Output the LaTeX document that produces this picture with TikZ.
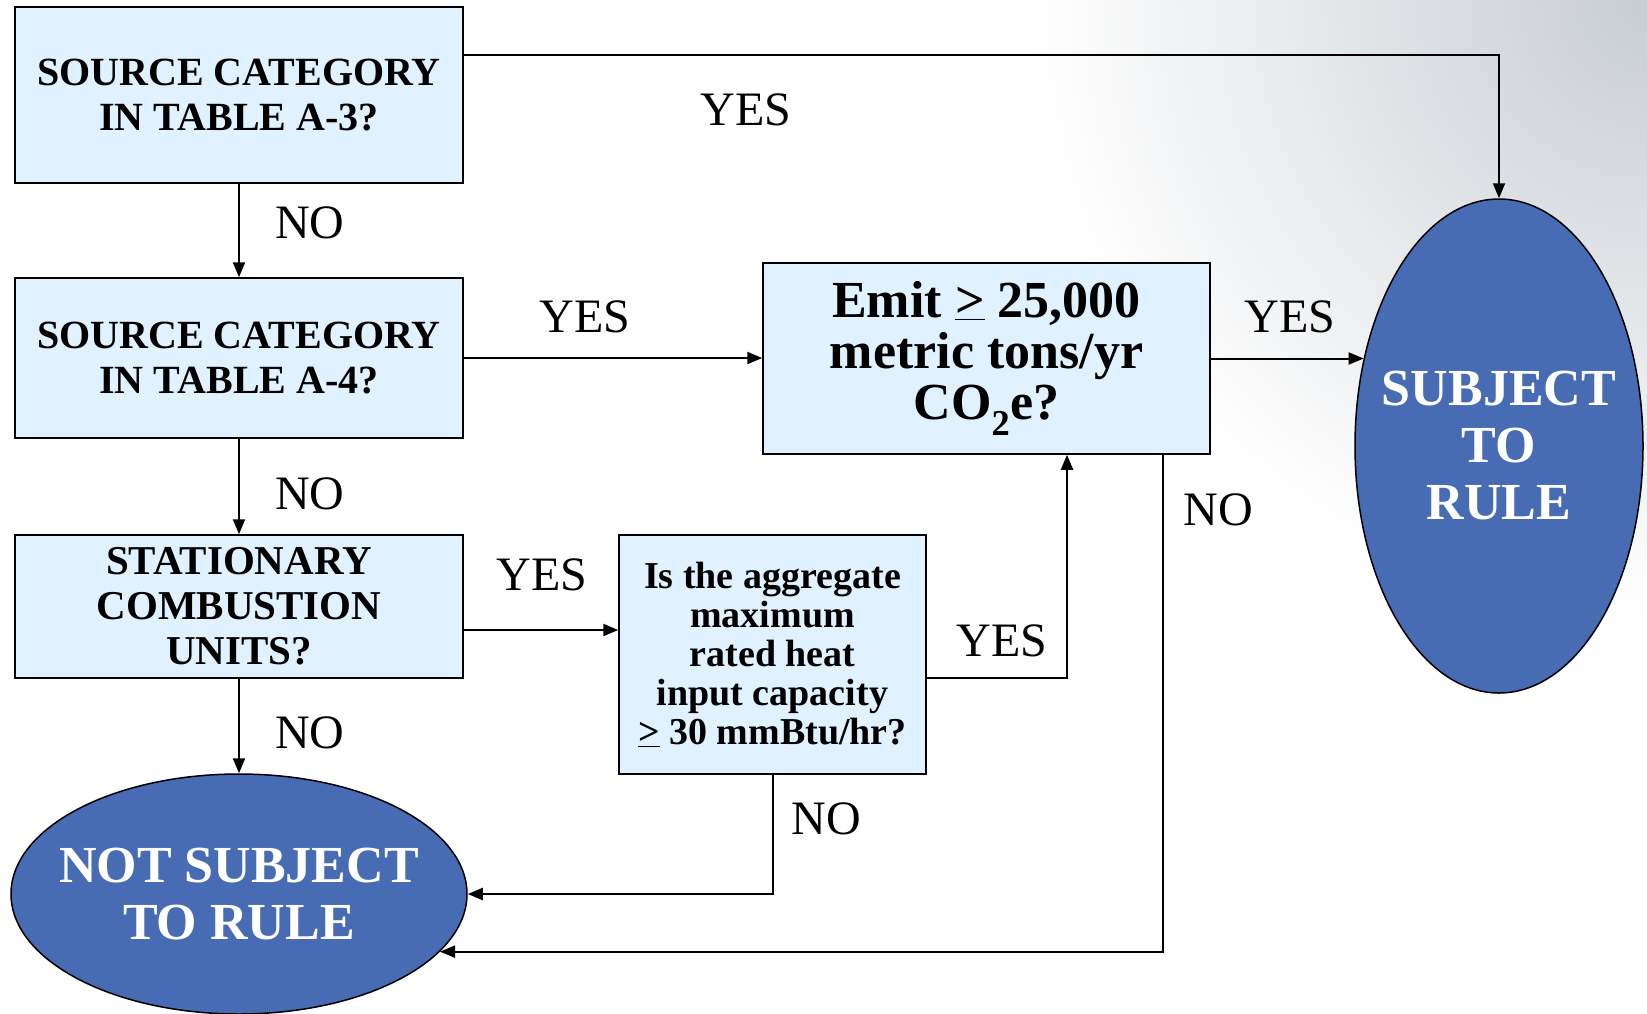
\documentclass[tikz,border=0pt]{standalone}
\usepackage{fontspec}
\setmainfont{Liberation Serif}
\usetikzlibrary{arrows.meta,shapes.geometric}
\definecolor{boxblue}{RGB}{224,242,255}
\definecolor{ovalblue}{RGB}{72,108,180}
\definecolor{cornergray}{RGB}{200,205,211}
\tikzset{
	qbox/.style={draw=black, line width=1.5pt, fill=boxblue, align=center, inner sep=0pt},
	oval/.style={ellipse, draw=black, line width=1.5pt, fill=ovalblue, text=white, align=center, inner ysep=0pt, inner xsep=-20pt, font=\bfseries\fontsize{52}{57}\selectfont},
	flow/.style={line width=2pt, -{Triangle[length=15pt,width=12pt]}},
	answer/.style={inner sep=0pt, font=\fontsize{48}{48}\selectfont}
}

\begin{document}
\begin{tikzpicture}[x=1pt, y=-1pt]
			%%%%% START %%%%%
			
			\useasboundingbox (0, 0) rectangle (1647, 1013);
			\fill[white] (0, 0) rectangle (1647, 1013);
			\begin{scope}
				\clip (0, 0) rectangle (1647, 1013);
				\shade[inner color=cornergray, outer color=white] (1647, 0) circle (620);
			\end{scope}
			
			\node[qbox, minimum width=448, minimum height=176, font=\bfseries\fontsize{40}{45}\selectfont] (tabA3) at (239, 95) {SOURCE CATEGORY\\IN TABLE A-3?};
			\node[qbox, minimum width=448, minimum height=160, font=\bfseries\fontsize{40}{45}\selectfont] (tabA4) at (239, 358) {SOURCE CATEGORY\\IN TABLE A-4?};
			\node[qbox, minimum width=448, minimum height=143, font=\bfseries\fontsize{41}{45}\selectfont] (stat) at (239, 606.5) {STATIONARY\\COMBUSTION\\UNITS?};
			\node[qbox, minimum width=447, minimum height=191, font=\bfseries\fontsize{52}{51}\selectfont] (emit) at (986.5, 358.5) {Emit \underline{>} 25,000\\metric tons/yr\\CO\textsubscript{2}e?};
			\node[qbox, minimum width=307, minimum height=239, font=\bfseries\fontsize{38}{39}\selectfont] (agg) at (772.5, 654.5) {Is the aggregate\\maximum\\rated heat\\input capacity\\\underline{>} 30 mmBtu/hr?};
			
			\node[oval, minimum width=288, minimum height=494] (subj) at (1499, 446) {SUBJECT\\TO\\RULE};
			\node[oval, minimum width=456, minimum height=240] (notsubj) at (239, 894) {NOT SUBJECT\\TO RULE};
			
			\draw[flow] (tabA3.east |- 0, 55) -| (subj.north);
			\draw[flow] (tabA3.south) -- (tabA4.north);
			\draw[flow] (tabA4.east) -- (emit.west |- tabA4.east);
			\draw[flow] (tabA4.south) -- (stat.north);
			\draw[flow] (stat.east |- 0, 630) -- (agg.west |- 0, 630);
			\draw[flow] (stat.south) -- (notsubj.north);
			\draw[flow] (emit.east) -- (emit.east -| subj.147);
			\draw[flow] (agg.east |- 0, 678) -| (1067, 0 |- emit.south);
			\draw[flow] (agg.south) |- (notsubj.east);
			\draw[flow] (1163, 0 |- emit.south) |- (notsubj.-16);
			
			\node[answer] (yesA3) at (746, 110) {YES};
			\node[answer] (noA3) at (310, 223) {NO};
			\node[answer] (yesA4) at (585, 317) {YES};
			\node[answer] (noA4) at (310, 494) {NO};
			\node[answer] (yesStat) at (542, 575) {YES};
			\node[answer] (noStat) at (310, 733) {NO};
			\node[answer] (yesEmit) at (1290, 317) {YES};
			\node[answer] (noEmit) at (1218, 510) {NO};
			\node[answer] (yesAgg) at (1002, 641) {YES};
			\node[answer] (noAgg) at (826, 819) {NO};
			
			%%%%% END %%%%%
\end{tikzpicture}
\end{document}
